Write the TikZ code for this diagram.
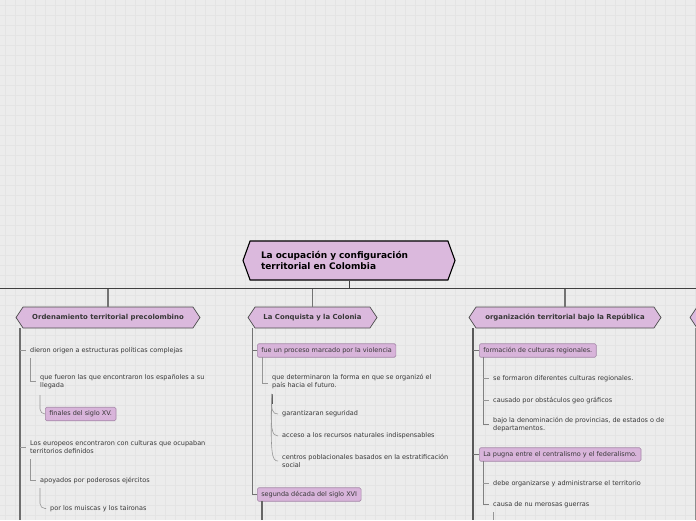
\documentclass[tikz,border=0pt]{standalone}
\usepackage{fontspec}
\setmainfont{DejaVu Sans}
\usetikzlibrary{shapes.symbols}
\definecolor{bg}{RGB}{236,236,236}
\definecolor{gridc}{RGB}{228,228,228}
\definecolor{hexfill}{RGB}{219,185,221}
\definecolor{boxfill}{RGB}{216,180,218}
\definecolor{boxline}{RGB}{165,135,168}
\definecolor{txt}{RGB}{55,55,55}
\definecolor{spinec}{RGB}{110,110,110}
\definecolor{thinc}{RGB}{150,150,150}
\begin{document}
\begin{tikzpicture}[x=1pt,y=-1pt,
  mainhex/.style={signal, signal to=west and east, signal pointer angle=140, draw=black, line width=1.1pt, fill=hexfill,
    font=\bfseries\fontsize{9}{11.5}\selectfont, text=black, minimum width=212pt, minimum height=39pt, text width=176pt, align=left, inner sep=0pt},
  hex/.style={signal, signal to=west and east, signal pointer angle=112, draw=black!70, line width=0.7pt, fill=hexfill,
    font=\bfseries\fontsize{6.9}{8}\selectfont, text=txt, minimum height=21pt, inner sep=0pt},
  item/.style={anchor=west, font=\fontsize{6.5}{8}\selectfont, text=txt, inner sep=0pt, align=left},
  tag/.style={anchor=west, draw=boxline, line width=0.6pt, fill=boxfill, rounded corners=1.5pt, font=\fontsize{6.5}{8}\selectfont, text=txt, inner xsep=4pt, inner ysep=0pt, minimum height=13.5pt},
  bus/.style={draw=black!75, line width=0.8pt},
  drop/.style={draw=black!55, line width=1.1pt},
  spine/.style={draw=spinec, line width=1.6pt},
  link/.style={draw=thinc, line width=0.6pt},
  midlink/.style={draw=black!50, line width=0.9pt}]
\useasboundingbox (0,0) rectangle (696,520);
\clip (0,0) rectangle (696,520);
\fill[bg] (0,0) rectangle (696,520);
\foreach \gx in {0,10,...,690} \draw[gridc, line width=0.5pt] (\gx+5,0) -- (\gx+5,520);
\foreach \gy in {0,10,...,520} \draw[gridc, line width=0.5pt] (0,\gy+5) -- (696,\gy+5);

% main
\node[mainhex] (main) at (349,260.5) {La ocupación y configuración\\territorial en Colombia};
\coordinate (busc) at (349,288.5);
\coordinate (busl) at (0,288.5);
\coordinate (busr) at (696,288.5);
\draw[bus] (main.south) -- (busc);
\draw[bus] (busl) -- (busr);

% branches
\node[hex, minimum width=184pt] (b1) at (108,317.5) {Ordenamiento territorial precolombino};
\node[hex, minimum width=129pt] (b2) at (312.5,317.5) {La Conquista y la Colonia};
\node[hex, minimum width=192pt] (b3) at (565,317.5) {organización territorial bajo la República};
\node[hex, minimum width=160pt] (b4) at (770,317.5) {};
\foreach \b in {b1,b2,b3} \draw[drop] (\b.north) -- (\b.north |- busc);

% ---------- branch 1
\coordinate (s1a) at (20,328);
\coordinate (s1b) at (20,520);
\draw[spine] (s1a) -- (s1b);
\node[item] (i11) at (30,350.5) {dieron origen a estructuras políticas complejas};
\draw[link] (i11.west -| s1a) -- ++(6,0);
\node[item] (i12) at (40,382) {que fueron las que encontraron los españoles a su\\llegada};
\draw[link] (30,358) -- (30,381) -- (36,381);
\node[tag] (t13) at (45,414) {finales del siglo XV.};
\draw[link, rounded corners=5pt] (40,395) -- (40,414) -- (t13.west);
\node[item] (i14) at (30,447.5) {Los europeos encontraron con culturas que ocupaban\\territorios definidos};
\draw[link] (i14.west -| s1a) -- ++(6,0);
\node[item] (i15) at (40,480.5) {apoyados por poderosos ejércitos};
\draw[link] (30,459) -- (30,480.5) -- ++(6,0);
\node[item] (i16) at (50,508.5) {por los muiscas y los taironas};
\draw[link, rounded corners=5pt] (40,488) -- (40,508.5) -- ++(6,0);

% ---------- branch 2
\node[tag] (t21) at (257,350.5) {fue un proceso marcado por la violencia};
\node[tag] (t26) at (257,494.5) {segunda década del siglo XVI};
\draw[link, line width=0.8pt, draw=black!55] (252,328) -- (252,494.5) -- (t26.west);
\draw[link, line width=0.8pt, draw=black!55] (252,350.5) -- (t21.west);
\node[item] (i22) at (272,382) {que determinaron la forma en que se organizó el\\país hacia el futuro.};
\draw[link] (262,357) -- (262,383) -- ++(6,0);
\coordinate (c2) at (272,394);
\node[item] (i23) at (282,414) {garantizaran seguridad};
\node[item] (i24) at (282,436) {acceso a los recursos naturales indispensables};
\node[item] (i25) at (282,461) {centros poblacionales basados en la estratificación\\social};
\draw[black!70, line width=0.9pt] (c2) -- (272,404);
\draw[link] (c2) .. controls (271,410) and (272,414) .. ([xshift=-4pt]i23.west);
\draw[link] (c2) .. controls (270,430) and (272,436) .. ([xshift=-4pt]i24.west);
\draw[link] (c2) .. controls (270,455) and (272,461) .. ([xshift=-4pt]i25.west);
\draw[spine, draw=black!60] (262,501) -- (262,520);

% ---------- branch 3
\draw[spine, draw=black!65] (473,328) -- (473,520);
\node[tag] (t31) at (479,350.5) {formación de culturas regionales.};
\draw[link, draw=black!55, line width=0.8pt] (473,350.5) -- (t31.west);
\node[item] (i32) at (493,378.5) {se formaron diferentes culturas regionales.};
\node[item] (i33) at (493,400.5) {causado por obstáculos geo gráficos};
\node[item] (i34) at (493,425) {bajo la denominación de provincias, de estados o de\\departamentos.};
\draw[midlink] (483,357) -- (483,424) -- (489,424);
\draw[link] (483,378.5) -- (489,378.5);
\draw[link] (483,400.5) -- (489,400.5);
\node[tag] (t35) at (479,454.5) {La pugna entre el centralismo y el federalismo.};
\draw[link, draw=black!55, line width=0.8pt] (473,454.5) -- (t35.west);
\node[item] (i36) at (493,483.5) {debe organizarse y administrarse el territorio};
\node[item] (i37) at (493,504.5) {causa de nu merosas guerras};
\draw[midlink] (483,461) -- (483,504.5) -- (489,504.5);
\draw[link] (483,483.5) -- (489,483.5);
\draw[link, line width=0.9pt] (493,512) -- (493,520);

% ---------- branch 4
\draw[link, line width=0.9pt, draw=black!45] (695,328) -- (695,520);
\end{tikzpicture}
\end{document}
